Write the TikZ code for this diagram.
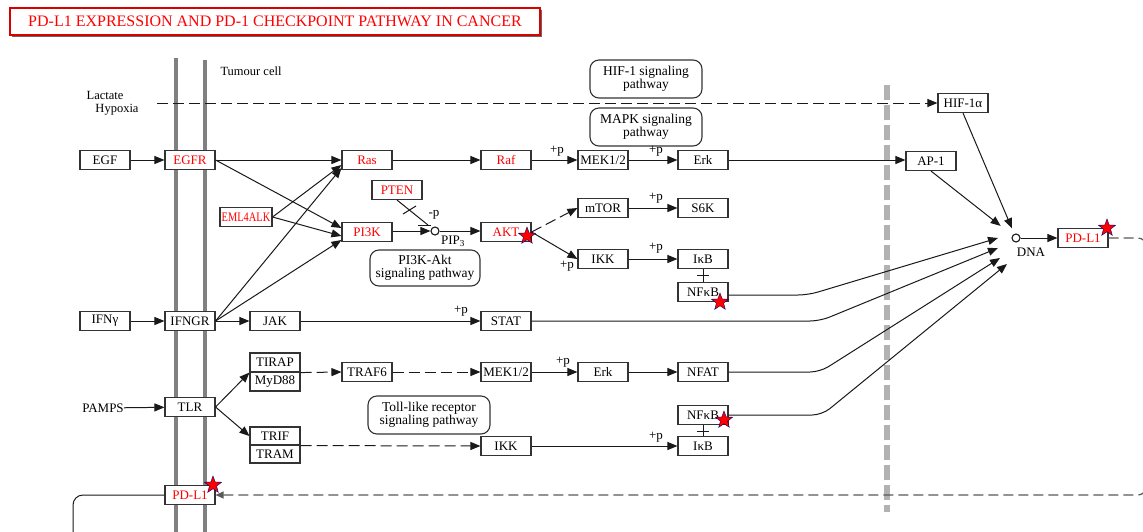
\documentclass[tikz,border=0pt]{standalone}
\usepackage{fontspec}
\setmainfont{Liberation Serif}
\usetikzlibrary{arrows.meta,shapes.geometric,calc}
\begin{document}
\begin{tikzpicture}[x=1pt,y=-1pt,
 box/.style={draw=black!80, line width=1.1pt, fill=white, minimum width=50pt, minimum height=19pt, inner sep=0pt, font=\fontsize{13}{13}\selectfont},
 gene/.style={box, text=red},
 pway/.style={draw=black!80, line width=1.1pt, rounded corners=9pt, align=center, inner sep=0pt, font=\fontsize{13.5}{13}\selectfont},
 arr/.style={draw=black!90, line width=1pt, -{Triangle[length=10pt,width=8pt]}},
 dsh/.style={dash pattern=on 11pt off 5pt},
 conn/.style={draw=black!90, line width=1pt},
 lbl/.style={font=\fontsize{13}{13}\selectfont, inner sep=0pt},
 small/.style={font=\fontsize{12.5}{12.5}\selectfont, inner sep=0pt},
 starmark/.style={star, star points=5, star point ratio=2.4, fill=red, draw=blue!45!black, line width=0.4pt, minimum size=18pt, inner sep=0pt},
 membr/.style={draw=black!50, line width=4pt},
 cell/.style={circle, draw=black!90, line width=1.1pt, minimum size=8pt, inner sep=0pt, fill=white}
]
\useasboundingbox (0,0) rectangle (1143,531);

% title
\fill[black!60] (12,10) rectangle (542,37);
\node[draw=red!85!black, line width=1.3pt, fill=white, minimum width=530pt, minimum height=27pt, text=red, inner sep=0pt, font=\fontsize{16}{16}\selectfont] (title) at (275,21.5) {PD-L1 EXPRESSION AND PD-1 CHECKPOINT PATHWAY IN CANCER};

% membranes and nucleus border
\draw[membr] (176,58) -- (176,540);
\draw[membr] (205,60) -- (205,540);
\draw[draw=black!30, line width=6pt, dash pattern=on 15pt off 5pt] (887,85) -- (887,512);

\node[small] (tumour) at (251,71) {Tumour cell};
\node[small] (lactate) at (105,95) {Lactate};
\node[small] (hypoxia) at (117,110) {Hypoxia};
\coordinate (hyp) at (157,103);

% pathway boxes
\node[pway, minimum width=112pt, minimum height=38pt] (hifp) at (646,79) {HIF-1 signaling\\pathway};
\node[pway, minimum width=112pt, minimum height=38pt] (mapkp) at (646,127) {MAPK signaling\\pathway};
\node[pway, minimum width=110pt, minimum height=36pt] (pi3kp) at (425,268) {PI3K-Akt\\signaling pathway};
\node[pway, minimum width=122pt, minimum height=38pt] (tollp) at (429,415) {Toll-like receptor\\signaling pathway};

% nodes
\node[box] (hif) at (963,103) {HIF-1α};
\node[box] (egf) at (105,160) {EGF};
\node[gene] (egfr) at (190,160) {EGFR};
\node[gene] (ras) at (367,160) {Ras};
\node[gene] (raf) at (506,160) {Raf};
\node[box] (mek1) at (603,160) {MEK1/2};
\node[box] (erk1) at (703,160) {Erk};
\node[box] (ap1) at (931,161) {AP-1};
\node[gene] (pten) at (397,190) {PTEN};
\node[gene, minimum width=52pt] (eml) at (246,217) {\scalebox{0.8}[1]{EML4ALK}};
\node[gene] (pi3k) at (367,232) {PI3K};
\node[cell] (pip) at (435,231) {};
\node[lbl] (piplbl) at (453,241) {PIP\textsubscript{3}};
\node[gene] (akt) at (506,232) {AKT};
\node[box] (mtor) at (603,208) {mTOR};
\node[box] (s6k) at (703,208) {S6K};
\node[box] (ikk1) at (603,259) {IKK};
\node[box] (ikb1) at (703,259) {IκB};
\node[box] (nfkb1) at (703,292) {NFκB};
\node[box] (ifng) at (105,321) {IFNγ};
\node[box] (ifngr) at (190,321) {IFNGR};
\node[box] (jak) at (275,321) {JAK};
\node[box] (stat) at (506,321) {STAT};
\node[box] (tirap) at (275,362.5) {TIRAP};
\node[box] (myd) at (275,381.5) {MyD88};
\node[box] (traf6) at (367,372) {TRAF6};
\node[box] (mek2) at (506,372) {MEK1/2};
\node[box] (erk2) at (603,372) {Erk};
\node[box] (nfat) at (703,372) {NFAT};
\node[lbl] (pamps) at (103,408) {PAMPS};
\node[box] (tlr) at (190,407) {TLR};
\node[box, minimum height=18pt] (trif) at (275,436) {TRIF};
\node[box, minimum height=18pt] (tram) at (275,454) {TRAM};
\node[box] (ikk2) at (506,446) {IKK};
\node[box] (nfkb2) at (703,415) {NFκB};
\node[box] (ikb2) at (703,446) {IκB};
\node[gene] (pdl1m) at (190,495) {PD-L1};
\node[cell] (dna) at (1016,238) {};
\node[lbl] (dnalbl) at (1031,252) {DNA};
\node[gene] (pdl1r) at (1083,238) {PD-L1};

% +p labels
\node[lbl] (p1) at (557,151) {+p};
\node[lbl] (p2) at (656,151) {+p};
\node[lbl] (p3) at (656,198) {+p};
\node[lbl] (p4) at (656,248) {+p};
\node[lbl] (p5) at (567,266) {+p};
\node[lbl] (p6) at (461,311) {+p};
\node[lbl] (p7) at (563,362) {+p};
\node[lbl] (p8) at (656,437) {+p};
\node[lbl] (mp) at (434,215) {-p};

% connectors
\draw[arr,dsh] (hyp) -- (hif.west);
\draw[arr] (egf) -- (egfr);
\draw[arr] (egfr) -- (ras);
\draw[arr] (egfr.east) -- ([yshift=4pt]pi3k.west);
\draw[arr] (eml.east) -- ([yshift=-5pt]ras.west);
\draw[arr] (eml.east) -- ([yshift=-4pt]pi3k.west);
\draw[arr] (ifngr.east) -- ([yshift=-8pt]ras.west);
\draw[arr] (ifngr.east) -- ([yshift=-8pt]pi3k.west);
\draw[arr] (ifng) -- (ifngr);
\draw[arr] (ifngr) -- (jak);
\draw[arr] (jak) -- (stat);
\draw[arr] (ras) -- (raf);
\draw[arr] (raf) -- (mek1);
\draw[arr] (mek1) -- (erk1);
\draw[arr] (erk1.east) -- (erk1.east -| ap1.west);
\draw[arr] (pi3k.east |- pip) -- (pip);
\draw[arr] (pip) -- (pip -| akt.west);
\coordinate (ptenend) at (428,225);
\draw[conn] (pten.south) -- (ptenend);
\draw[conn] (403,214) -- (416,206);
\draw[conn] (418,225) -- (431,225);
\draw[arr,dsh] (akt.east) -- (mtor.west);
\draw[arr] (akt.east) -- (ikk1.west);
\draw[arr] (mtor) -- (s6k);
\draw[arr] (ikk1) -- (ikb1);
\draw[conn] (ikb1) -- (nfkb1);
\draw[conn] (697,275.5) -- (709,275.5);
\draw[arr] (pamps) -- (tlr);
\draw[arr] (tlr.east) -- (tirap.south west);
\draw[arr] (tlr.east) -- (trif.west);
\draw[arr,dsh] (tirap.south east) -- (traf6.west);
\draw[arr,dsh] (traf6) -- (mek2);
\draw[arr] (mek2) -- (erk2);
\draw[arr] (erk2) -- (nfat);
\draw[arr,dsh] (trif.south east) -- (ikk2.west);
\draw[arr] (ikk2) -- (ikb2);
\draw[conn] (nfkb2) -- (ikb2);
\draw[conn] (697,431.5) -- (709,431.5);

% into DNA
\draw[arr, shorten >=6pt] (hif.south) -- (dna);
\draw[arr, shorten >=15pt] (ap1.south) -- (dna);
\coordinate (in1) at (998,238);
\coordinate (in2) at (998,248);
\coordinate (in3) at (1000,258);
\coordinate (in4) at (1007,264);
\draw[arr, rounded corners=10pt] (nfkb1.east |- 0,295) -- (808,295) -- (in1);
\draw[arr, rounded corners=10pt] (stat.east) -- (820,321) -- (in2);
\draw[arr, rounded corners=10pt] (nfat.east) -- (820,372) -- (in3);
\draw[arr, rounded corners=10pt] (nfkb2.east) -- (822,415) -- (in4);
\draw[arr] (dna) -- (pdl1r);

% PD-L1 loop
\draw[draw=black!65, line width=1.2pt, dash pattern=on 10pt off 5pt, -{Triangle[length=8pt,width=7pt]}, rounded corners=8pt] (pdl1r.east) -- (1146,238) -- (1146,495) -- (pdl1m.east);
\coordinate (exitdown) at (73,545);
\draw[conn, rounded corners=10pt] (pdl1m.west) -- (73,495) -- (exitdown);

% stars
\node[starmark] (s1) at (527,236) {};
\node[starmark] (s2) at (720,302) {};
\node[starmark] (s3) at (724,420) {};
\node[starmark] (s4) at (1107,228) {};
\node[starmark] (s5) at (213,485) {};
\end{tikzpicture}
\end{document}
